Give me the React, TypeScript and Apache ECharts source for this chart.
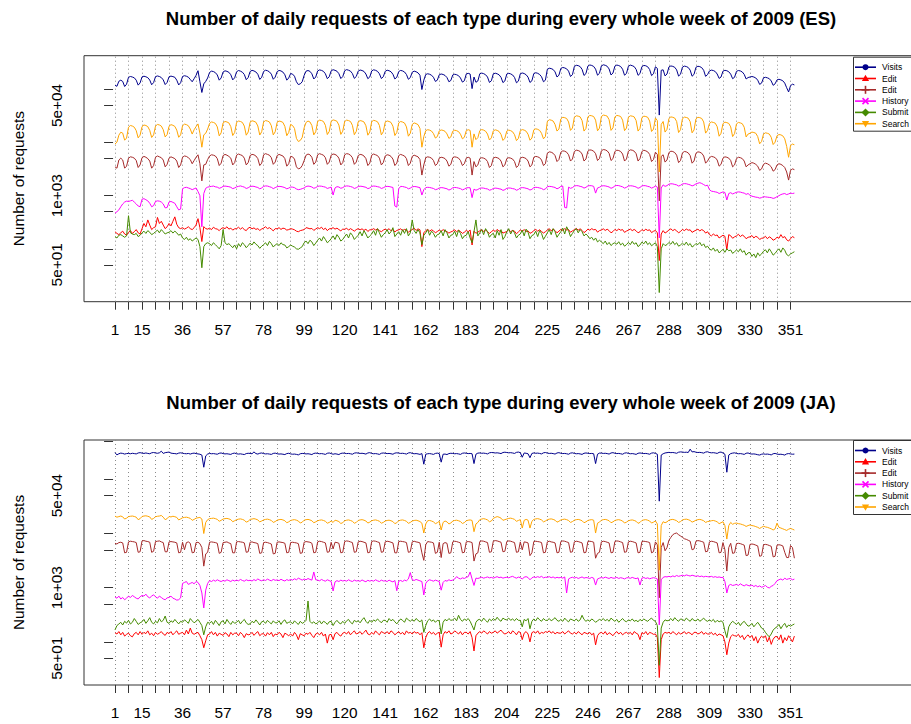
import React, { useEffect, useRef } from "react";
import * as echarts from "echarts";

const FONT = "'Liberation Sans', Arial, sans-serif";

const xTicks = [1, 8, 15, 22, 29, 36, 43, 50, 57, 64, 71, 78, 85, 92, 99, 106, 113, 120, 127, 134, 141, 148, 155, 162, 169, 176, 183, 190, 197, 204, 211, 218, 225, 232, 239, 246, 253, 260, 267, 274, 281, 288, 295, 302, 309, 316, 323, 330, 337, 344, 351];
const xLabels = [1, 15, 36, 57, 78, 99, 120, 141, 162, 183, 204, 225, 246, 267, 288, 309, 330, 351];
const yTicksES = [50, 100, 500, 1000, 5000, 10000, 50000, 100000];
const yTicksJA = [50, 100, 500, 1000, 5000, 10000, 50000, 100000, 500000];
const yLabels = [50, 1000, 50000];

const seriesNames = ["Visits", "Edit", "Edit", "History", "Submit", "Search"];
const seriesColors = ["#00008B", "#FF0000", "#A52A2A", "#FF00FF", "#458B00", "#FFA500"];

// ---------------- ES ----------------
const esVisits = [
120e3,115e3,143e3,150e3,142e3,114e3,126e3,
170e3,176e3,172e3,166e3,150e3,121e3,133e3,
173e3,178e3,174e3,167e3,151e3,123e3,135e3,
175e3,180e3,176e3,168e3,152e3,124e3,136e3,
174e3,179e3,175e3,170e3,150e3,122e3,134e3,
176e3,182e3,178e3,171e3,155e3,140e3,160e3,
185e3,226e3,140e3,88e3,128e3,142e3,165e3,
210e3,222e3,218e3,208e3,188e3,150e3,165e3,
214e3,225e3,220e3,211e3,190e3,152e3,166e3,
216e3,228e3,222e3,212e3,192e3,153e3,168e3,
218e3,230e3,224e3,214e3,194e3,155e3,170e3,
219e3,231e3,226e3,215e3,195e3,156e3,171e3,
217e3,229e3,224e3,213e3,190e3,150e3,165e3,
200e3,195e3,178e3,140e3,124e3,128e3,140e3,
185e3,222e3,228e3,220e3,198e3,158e3,172e3,
224e3,234e3,229e3,220e3,198e3,160e3,174e3,
225e3,236e3,230e3,221e3,199e3,161e3,175e3,
226e3,237e3,231e3,222e3,200e3,162e3,176e3,
222e3,233e3,228e3,219e3,196e3,160e3,172e3,
224e3,235e3,230e3,220e3,198e3,161e3,174e3,
220e3,231e3,226e3,216e3,194e3,158e3,170e3,
218e3,229e3,224e3,214e3,192e3,156e3,168e3,
212e3,222e3,216e3,206e3,186e3,100e3,150e3,
192e3,198e3,194e3,186e3,170e3,142e3,150e3,
190e3,196e3,192e3,184e3,168e3,140e3,148e3,
188e3,194e3,190e3,182e3,165e3,138e3,146e3,
196e3,202e3,196e3,104e3,172e3,137e3,145e3,
198e3,204e3,199e3,190e3,172e3,136e3,146e3,
197e3,203e3,198e3,189e3,170e3,135e3,145e3,
196e3,202e3,197e3,188e3,169e3,134e3,144e3,
198e3,205e3,200e3,190e3,171e3,136e3,146e3,
200e3,207e3,202e3,192e3,174e3,140e3,150e3,
240e3,252e3,248e3,238e3,215e3,172e3,186e3,
250e3,260e3,255e3,245e3,222e3,176e3,190e3,
272e3,286e3,282e3,270e3,240e3,184e3,200e3,
276e3,290e3,284e3,272e3,242e3,186e3,202e3,
278e3,292e3,286e3,274e3,244e3,188e3,204e3,
276e3,289e3,283e3,271e3,241e3,186e3,201e3,
274e3,288e3,281e3,270e3,240e3,185e3,200e3,
270e3,284e3,280e3,268e3,238e3,183e3,198e3,
268e3,250e3,33e3,230e3,235e3,180e3,196e3,
266e3,278e3,273e3,262e3,234e3,179e3,194e3,
264e3,276e3,271e3,260e3,232e3,178e3,193e3,
262e3,274e3,270e3,258e3,230e3,177e3,191e3,
224e3,232e3,228e3,218e3,196e3,162e3,172e3,
222e3,230e3,226e3,216e3,195e3,160e3,170e3,
220e3,228e3,224e3,214e3,193e3,158e3,168e3,
172e3,176e3,172e3,165e3,150e3,125e3,132e3,
166e3,170e3,166e3,160e3,145e3,120e3,128e3,
152e3,156e3,152e3,146e3,132e3,108e3,90e3,
118e3,126e3,122e3];

const esEdit = [
210,195,185,200,215,190,180,
205,220,195,210,230,200,190,
240,300,260,350,280,230,250,
260,390,300,330,280,240,260,
300,270,330,400,290,250,240,
250,235,245,260,240,230,250,
280,370,250,137,262,240,235,
245,230,255,240,235,220,240,
250,240,260,235,245,225,238,
240,255,235,250,230,220,245,
255,238,248,232,240,222,236,
245,260,240,250,235,218,240,
238,250,232,245,240,225,230,
240,235,228,215,210,220,225,
230,250,245,238,242,222,236,
250,240,255,230,245,220,238,
240,250,235,245,230,218,235,
232,245,225,240,228,215,230,
240,228,238,222,235,212,228,
228,240,226,236,220,210,225,
235,222,240,218,230,208,222,
228,238,220,232,225,205,220,
230,245,222,238,228,110,200,
220,232,215,228,218,200,212,
225,212,230,218,210,198,208,
215,228,210,224,212,195,205,
222,210,226,118,215,196,206,
218,230,212,226,210,195,210,
224,212,232,215,220,198,205,
212,228,210,222,215,192,208,
226,214,230,212,218,196,204,
220,232,215,228,212,198,210,
225,240,218,235,220,200,215,
232,222,240,226,230,205,218,
228,242,225,238,222,202,215,
235,224,240,228,232,206,220,
226,238,222,234,220,200,212,
232,220,236,224,230,204,216,
224,236,220,232,218,200,210,
230,218,234,222,228,202,214,
222,200,60,190,220,198,210,
226,238,220,232,218,200,212,
232,220,236,224,228,204,215,
224,234,218,230,220,198,210,
185,175,190,178,182,160,170,
180,172,95,185,176,158,168,
175,188,170,182,172,155,165,
168,178,160,172,165,150,158,
160,172,155,168,160,145,152,
165,158,185,162,170,148,140,
155,170,162];

const esEdit2 = [
3.5e3,3.3e3,4.7e3,5.1e3,4.7e3,3.3e3,3.6e3,
5.1e3,5.4e3,5.3e3,5.1e3,4.6e3,3.4e3,3.8e3,
5.2e3,5.5e3,5.3e3,5e3,4.5e3,3.3e3,3.7e3,
5.3e3,5.6e3,5.4e3,5.2e3,4.7e3,3.5e3,3.9e3,
5.1e3,5.4e3,5.2e3,5e3,4.5e3,3.4e3,3.8e3,
5.3e3,5.6e3,5.5e3,5.2e3,4.8e3,4e3,4.6e3,
5.3e3,5.9e3,4e3,1.9e3,3.8e3,3.9e3,4.8e3,
5.6e3,5.9e3,5.8e3,5.6e3,5e3,3.7e3,4.1e3,
5.7e3,6e3,5.8e3,5.5e3,5.1e3,3.8e3,4.2e3,
5.8e3,6.1e3,5.9e3,5.7e3,5.1e3,3.8e3,4.2e3,
5.7e3,6e3,5.9e3,5.6e3,5e3,3.7e3,4.1e3,
5.9e3,6.2e3,6e3,5.8e3,5.2e3,3.9e3,4.3e3,
5.7e3,6e3,5.8e3,5.6e3,5e3,3.6e3,4e3,
5.5e3,5.4e3,4.9e3,3.5e3,3.2e3,3.3e3,3.7e3,
4.6e3,5.8e3,6.1e3,5.9e3,5.3e3,3.9e3,4.3e3,
5.9e3,6.2e3,6e3,5.8e3,5.2e3,3.9e3,4.3e3,
5.8e3,6.1e3,6e3,5.7e3,5.1e3,3.8e3,4.2e3,
5.9e3,6.2e3,6.1e3,5.8e3,5.2e3,3.9e3,4.3e3,
5.7e3,6e3,5.9e3,5.6e3,5e3,3.7e3,4.1e3,
5.8e3,6.1e3,5.9e3,5.7e3,5.1e3,3.8e3,4.2e3,
5.6e3,5.9e3,5.8e3,5.5e3,4.9e3,3.7e3,4.1e3,
5.7e3,6e3,5.8e3,5.6e3,5e3,3.7e3,4.1e3,
5.5e3,5.8e3,5.6e3,5.4e3,4.8e3,2.45e3,3.8e3,
5.2e3,5.4e3,5.3e3,5.1e3,4.6e3,3.7e3,4e3,
5.1e3,5.3e3,5.2e3,5e3,4.5e3,3.6e3,3.9e3,
5.2e3,5.4e3,5.3e3,5.1e3,4.6e3,3.7e3,4e3,
5.1e3,5.3e3,5.1e3,2.45e3,4.4e3,3.5e3,3.8e3,
5e3,5.2e3,5.1e3,4.9e3,4.4e3,3.4e3,3.7e3,
5.1e3,5.3e3,5.2e3,5e3,4.5e3,3.5e3,3.8e3,
5e3,5.2e3,5.1e3,4.9e3,4.4e3,3.4e3,3.7e3,
5.1e3,5.3e3,5.2e3,5e3,4.5e3,3.5e3,3.8e3,
5.3e3,5.5e3,5.4e3,5.2e3,4.7e3,3.7e3,4e3,
6.3e3,6.7e3,6.6e3,6.3e3,5.7e3,4.4e3,4.8e3,
6.6e3,7e3,6.9e3,6.6e3,5.9e3,4.5e3,4.9e3,
6.8e3,7.2e3,7.1e3,6.8e3,6.1e3,4.5e3,4.9e3,
6.9e3,7.3e3,7.2e3,6.9e3,6.2e3,4.6e3,5e3,
7e3,7.4e3,7.3e3,7e3,6.3e3,4.6e3,5e3,
6.8e3,7.2e3,7.1e3,6.8e3,6.1e3,4.5e3,4.9e3,
6.9e3,7.3e3,7.2e3,6.9e3,6.2e3,4.5e3,5e3,
6.8e3,7.2e3,7e3,6.7e3,6e3,4.4e3,4.8e3,
6.6e3,6e3,800,5.5e3,5.9e3,4.3e3,4.7e3,
6.5e3,6.9e3,6.8e3,6.5e3,5.8e3,4.2e3,4.6e3,
6.4e3,6.8e3,6.7e3,6.4e3,5.7e3,4.1e3,4.5e3,
6.3e3,6.7e3,6.6e3,6.3e3,5.6e3,4.1e3,4.5e3,
5.2e3,5.5e3,5.4e3,5.2e3,4.7e3,3.6e3,3.9e3,
5.1e3,5.4e3,5.3e3,5.1e3,4.6e3,3.5e3,3.8e3,
5e3,5.3e3,5.2e3,5e3,4.5e3,3.5e3,3.8e3,
4e3,4.2e3,4.1e3,3.9e3,3.6e3,3e3,3.2e3,
3.9e3,4.1e3,4e3,3.8e3,3.5e3,2.9e3,3.1e3,
3.8e3,4e3,3.9e3,3.7e3,3.4e3,2.8e3,1.97e3,
3e3,3.2e3,3.1e3];

const esHistory = [
470,500,540,620,700,760,790,
780,800,820,760,700,640,620,
860,880,840,800,720,620,650,
780,800,790,760,700,590,600,
760,780,750,720,620,540,560,
1.35e3,1.42e3,1.44e3,1.4e3,1.36e3,1.3e3,1.35e3,
1.4e3,1.2e3,1e3,260,1.1e3,1.38e3,1.45e3,
1.48e3,1.5e3,1.52e3,1.47e3,1.45e3,1.38e3,1.42e3,
1.5e3,1.52e3,1.5e3,1.48e3,1.44e3,1.36e3,1.4e3,
1.47e3,1.5e3,1.53e3,1.49e3,1.45e3,1.37e3,1.41e3,
1.49e3,1.51e3,1.5e3,1.46e3,1.43e3,1.35e3,1.4e3,
1.5e3,1.53e3,1.52e3,1.48e3,1.44e3,1.36e3,1.42e3,
1.48e3,1.5e3,1.49e3,1.46e3,1.42e3,1.35e3,1.39e3,
1.46e3,1.45e3,1.42e3,1.34e3,1.3e3,1.32e3,1.36e3,
1.4e3,1.49e3,1.52e3,1.5e3,1.46e3,1.38e3,1.42e3,
1.5e3,1.52e3,1.51e3,1.48e3,1.45e3,1.37e3,1.41e3,
1.45e3,1.03e3,1.4e3,1.48e3,1.46e3,1.38e3,1.42e3,
1.5e3,1.53e3,1.52e3,1.49e3,1.45e3,1.37e3,1.41e3,
1.49e3,1.51e3,1.5e3,1.47e3,1.44e3,1.36e3,1.4e3,
1.5e3,1.52e3,1.51e3,1.48e3,1.45e3,1.37e3,1.41e3,
1.48e3,1.5e3,1.49e3,1.46e3,1.43e3,640,610,
1.35e3,1.5e3,1.49e3,1.46e3,1.43e3,1.35e3,1.39e3,
1.47e3,1.49e3,1.48e3,1.45e3,1.42e3,1.03e3,1.3e3,
1.42e3,1.44e3,1.43e3,1.4e3,1.37e3,1.3e3,1.33e3,
1.4e3,1.42e3,1.41e3,1.38e3,1.35e3,1.28e3,1.32e3,
1.41e3,1.43e3,1.42e3,1.39e3,1.36e3,1.29e3,1.33e3,
1.4e3,1.42e3,1.41e3,920,1.33e3,1.27e3,1.31e3,
1.38e3,1.4e3,1.39e3,1.36e3,1.34e3,1.27e3,1.3e3,
1.37e3,1.39e3,1.38e3,1.35e3,1.33e3,1.26e3,1.3e3,
1.38e3,1.4e3,1.39e3,1.36e3,1.34e3,1.27e3,1.31e3,
1.4e3,1.42e3,1.41e3,1.38e3,1.35e3,1.28e3,1.32e3,
1.42e3,1.44e3,1.43e3,1.4e3,1.37e3,1.3e3,1.34e3,
1.48e3,1.5e3,1.49e3,1.46e3,1.43e3,1.35e3,1.4e3,
1.5e3,1.52e3,600,590,1.45e3,1.38e3,1.42e3,
1.52e3,1.55e3,1.54e3,1.5e3,1.47e3,1.39e3,1.44e3,
1.53e3,1.55e3,1.54e3,1.5e3,1.12e3,1.4e3,1.44e3,
1.52e3,1.54e3,1.53e3,1.5e3,1.46e3,1.38e3,1.43e3,
1.53e3,1.56e3,1.55e3,1.51e3,1.47e3,1.39e3,1.44e3,
1.52e3,1.54e3,1.53e3,1.5e3,1.46e3,1.38e3,1.43e3,
1.53e3,1.55e3,1.54e3,1.5e3,1.47e3,1.39e3,1.44e3,
1.52e3,1.45e3,160,1.4e3,1.6e3,1.5e3,1.55e3,
1.65e3,1.68e3,1.67e3,1.63e3,1.6e3,1.52e3,1.57e3,
1.66e3,1.69e3,1.68e3,1.64e3,1.6e3,1.53e3,1.58e3,
1.67e3,1.72e3,1.76e3,1.7e3,1.62e3,1.54e3,1.58e3,
1.3e3,1.22e3,1.2e3,1.18e3,1.16e3,1.1e3,1.14e3,
1.18e3,1.15e3,830,1.1e3,1.14e3,1.08e3,1.12e3,
1.16e3,1.18e3,1.17e3,1.14e3,1.12e3,1.06e3,1.1e3,
1.02e3,980,960,940,930,900,920,
960,950,940,930,920,890,910,
960,1e3,1.05e3,1.08e3,1.1e3,1.05e3,1.08e3,
1.12e3,1.1e3,1.12e3];

const esSubmit = [
170,160,180,185,175,165,175,
420,200,190,185,195,170,180,
200,215,195,220,205,185,195,
210,225,200,230,210,190,200,
205,220,198,215,200,180,190,
160,150,165,145,155,140,150,
160,150,110,44,110,125,130,
125,115,130,120,110,100,115,
230,130,120,125,115,105,118,
100,125,110,130,120,105,115,
128,118,135,122,115,102,112,
120,130,115,138,125,108,118,
125,115,130,120,118,104,110,
118,112,108,100,98,104,110,
130,140,125,145,135,115,128,
145,160,140,170,150,130,140,
155,175,150,185,165,140,150,
170,190,160,200,180,150,165,
180,210,175,220,190,160,175,
190,220,180,240,200,165,185,
200,230,190,210,250,170,190,
210,180,230,195,240,175,200,
350,220,195,230,200,120,180,
200,230,180,215,195,165,185,
190,220,175,230,200,160,180,
185,215,170,225,195,155,175,
180,210,160,130,210,350,175,
200,230,185,240,210,165,185,
195,160,220,180,230,150,170,
210,240,190,225,200,160,180,
190,225,175,235,205,155,178,
185,215,170,220,195,150,172,
200,230,185,240,210,165,188,
210,245,190,260,220,170,195,
220,240,200,230,210,175,190,
175,155,165,145,160,135,145,
135,125,140,120,132,115,125,
130,122,136,118,128,112,120,
132,120,138,122,130,110,118,
134,124,140,120,130,114,122,
130,110,15,100,125,115,120,
132,122,138,120,130,112,118,
128,118,134,116,126,108,115,
126,120,132,114,124,106,112,
100,94,104,90,98,84,90,
98,86,100,92,95,82,88,
95,88,100,86,92,76,84,
85,72,80,68,84,74,80,
90,96,84,100,88,76,82,
92,100,86,104,94,78,74,
80,84,88];

const esSearch = [
9.4e3,10.2e3,13.8e3,15.7e3,15.1e3,11.1e3,12.2e3,
19.5e3,21e3,20.5e3,19.5e3,16.8e3,12.3e3,13.8e3,
20e3,21.5e3,21e3,20e3,17e3,12.5e3,14e3,
20.5e3,22e3,21.5e3,20.5e3,17.5e3,12.8e3,14.2e3,
20.3e3,21.8e3,21.2e3,20.2e3,17.2e3,12.6e3,14e3,
20.8e3,22.3e3,21.8e3,20.8e3,18e3,14.5e3,17.5e3,
20e3,22.5e3,15e3,8.2e3,14e3,15e3,18e3,
23e3,24.5e3,24e3,23e3,19.8e3,13.4e3,15.3e3,
23.5e3,25e3,24.5e3,23.5e3,20e3,13.6e3,15.5e3,
24e3,25.5e3,25e3,24e3,20.5e3,13.8e3,15.8e3,
24.2e3,25.8e3,25.2e3,24.2e3,20.6e3,13.9e3,16e3,
24.5e3,26e3,25.5e3,24.5e3,20.8e3,14e3,16e3,
24e3,25.5e3,25e3,24e3,20.2e3,13.5e3,15.5e3,
22e3,21e3,18.5e3,12e3,10.5e3,11e3,12.5e3,
19e3,24e3,25.5e3,24.5e3,21e3,14e3,16e3,
25e3,26.5e3,26e3,25e3,21.2e3,14.2e3,16.2e3,
25.2e3,26.8e3,26.2e3,25.2e3,21.4e3,14.3e3,16.4e3,
25e3,26.5e3,26e3,25e3,21.2e3,14.1e3,16.2e3,
24.6e3,26e3,25.5e3,24.5e3,20.8e3,13.8e3,15.8e3,
24.8e3,26.3e3,25.7e3,24.7e3,21e3,14e3,16e3,
24.2e3,25.6e3,25e3,24e3,20.4e3,13.6e3,15.5e3,
23.5e3,25e3,24.4e3,23.4e3,19.8e3,13.2e3,15e3,
22e3,23.5e3,22.8e3,21.8e3,18.5e3,8.2e3,13e3,
16.8e3,17.5e3,17.2e3,16.5e3,14.8e3,12.2e3,13e3,
16.6e3,17.3e3,17e3,16.3e3,14.6e3,12e3,12.8e3,
16.4e3,17.1e3,16.8e3,16.1e3,14.4e3,11.8e3,12.6e3,
16.8e3,17.5e3,17e3,8.2e3,14.6e3,11.4e3,12.4e3,
16.8e3,17.6e3,17.2e3,16.4e3,14.5e3,11.2e3,12.3e3,
16.6e3,17.4e3,17e3,16.2e3,14.3e3,11e3,12.1e3,
16.5e3,17.2e3,16.8e3,16e3,14.1e3,10.9e3,12e3,
16.8e3,17.6e3,17.2e3,16.4e3,14.4e3,11.1e3,12.2e3,
17.4e3,18.2e3,17.8e3,17e3,15e3,11.8e3,13e3,
25e3,27e3,26.5e3,25.5e3,22e3,16.5e3,18e3,
28e3,30e3,29.5e3,28.5e3,24.5e3,17e3,18.8e3,
30e3,32e3,31.5e3,30.5e3,26e3,16.5e3,18.5e3,
30.5e3,32.5e3,32e3,31e3,26.5e3,16.7e3,18.7e3,
31e3,33e3,32.5e3,31.5e3,27e3,17e3,19e3,
30.5e3,32.5e3,32e3,31e3,26.5e3,16.8e3,18.8e3,
30e3,32e3,31.5e3,30.5e3,26e3,16.5e3,18.5e3,
29.5e3,31.5e3,31e3,30e3,25.5e3,16.2e3,18e3,
29e3,26e3,2.8e3,22e3,25e3,15.8e3,17.8e3,
28.5e3,30.5e3,30e3,29e3,25e3,15.5e3,17.5e3,
28.2e3,30.2e3,29.8e3,28.8e3,24.8e3,15.3e3,17.3e3,
28e3,30e3,29.5e3,28.5e3,24.5e3,15.1e3,17e3,
23e3,24.5e3,24e3,23.2e3,20e3,13.2e3,15e3,
22.8e3,24.3e3,23.8e3,23e3,19.8e3,13e3,14.8e3,
22.5e3,24e3,23.5e3,22.7e3,19.5e3,12.8e3,14.5e3,
15e3,15.8e3,15.5e3,15e3,13e3,9.5e3,10.5e3,
14.5e3,15.3e3,15e3,14.5e3,12.6e3,9.2e3,10.2e3,
13.5e3,14.2e3,14e3,13.4e3,11.8e3,8.5e3,5.3e3,
8.8e3,9.4e3,9.1e3];

// ---------------- JA ----------------
const jaVisits = [
310e3,282e3,296e3,304e3,300e3,292e3,298e3,
300e3,296e3,302e3,298e3,294e3,306e3,310e3,
304e3,300e3,306e3,300e3,296e3,308e3,312e3,
306e3,302e3,308e3,330e3,300e3,310e3,314e3,
318e3,304e3,300e3,298e3,294e3,304e3,308e3,
302e3,298e3,296e3,300e3,292e3,300e3,304e3,
298e3,294e3,290e3,280e3,167e3,270e3,292e3,
300e3,296e3,298e3,294e3,290e3,302e3,306e3,
298e3,294e3,296e3,292e3,288e3,300e3,304e3,
296e3,292e3,295e3,290e3,286e3,298e3,302e3,
300e3,296e3,320e3,298e3,292e3,302e3,306e3,
298e3,294e3,296e3,292e3,288e3,300e3,304e3,
296e3,292e3,294e3,290e3,286e3,298e3,302e3,
294e3,290e3,292e3,288e3,282e3,296e3,300e3,
298e3,294e3,296e3,292e3,286e3,300e3,304e3,
300e3,296e3,298e3,294e3,288e3,302e3,306e3,
298e3,290e3,296e3,292e3,286e3,300e3,304e3,
302e3,298e3,300e3,296e3,290e3,304e3,308e3,
304e3,300e3,302e3,298e3,292e3,306e3,310e3,
300e3,296e3,298e3,294e3,288e3,302e3,306e3,
302e3,298e3,300e3,296e3,290e3,304e3,308e3,
304e3,300e3,302e3,298e3,292e3,306e3,310e3,
300e3,296e3,298e3,294e3,288e3,298e3,190e3,
290e3,296e3,298e3,294e3,288e3,300e3,304e3,
298e3,207e3,290e3,292e3,286e3,298e3,302e3,
300e3,296e3,298e3,294e3,288e3,302e3,306e3,
302e3,298e3,300e3,296e3,195e3,290e3,304e3,
306e3,302e3,304e3,300e3,294e3,308e3,312e3,
310e3,306e3,308e3,304e3,298e3,312e3,316e3,
312e3,308e3,310e3,306e3,300e3,314e3,318e3,
310e3,255e3,306e3,302e3,296e3,250e3,300e3,
306e3,302e3,304e3,300e3,294e3,308e3,312e3,
304e3,300e3,302e3,298e3,292e3,306e3,310e3,
302e3,298e3,300e3,296e3,290e3,304e3,308e3,
300e3,296e3,298e3,294e3,288e3,302e3,306e3,
302e3,298e3,300e3,296e3,195e3,290e3,304e3,
304e3,300e3,302e3,298e3,292e3,306e3,310e3,
302e3,298e3,300e3,296e3,290e3,304e3,308e3,
300e3,296e3,298e3,294e3,288e3,302e3,306e3,
302e3,298e3,300e3,296e3,290e3,304e3,308e3,
300e3,290e3,39.5e3,280e3,296e3,306e3,310e3,
314e3,310e3,312e3,308e3,302e3,316e3,320e3,
318e3,314e3,316e3,312e3,360e3,320e3,324e3,
316e3,312e3,314e3,310e3,304e3,318e3,322e3,
312e3,308e3,310e3,306e3,300e3,314e3,318e3,
306e3,290e3,135e3,280e3,298e3,304e3,308e3,
300e3,296e3,298e3,294e3,288e3,302e3,306e3,
296e3,292e3,294e3,290e3,284e3,280e3,290e3,
294e3,290e3,292e3,288e3,282e3,296e3,300e3,
292e3,288e3,290e3,286e3,280e3,294e3,298e3,
294e3,290e3,292e3];

const jaEdit = [
147,140,155,135,150,128,138,
145,130,124,142,150,135,155,
138,150,142,160,135,145,130,
150,138,145,155,140,132,150,
142,155,135,148,160,138,145,
150,135,165,140,180,145,138,
145,150,130,110,78,105,135,
140,155,135,150,128,145,138,
132,148,140,125,150,135,145,
145,130,150,138,120,142,135,
138,150,132,145,155,130,140,
142,128,148,135,150,125,140,
135,150,140,120,145,138,130,
140,128,150,135,110,142,135,
130,145,138,150,132,120,140,
145,135,150,128,140,95,135,
138,110,142,150,135,128,145,
150,140,155,135,148,160,140,
145,155,138,150,165,140,135,
150,138,160,145,135,155,148,
142,155,140,160,150,135,145,
155,140,150,135,160,145,150,
140,155,145,150,135,148,78,
120,145,155,140,150,135,145,
150,80,135,155,145,160,140,
145,160,150,140,155,135,150,
150,140,155,120,68,130,145,
155,145,160,150,140,155,145,
150,160,145,155,165,148,140,
145,155,140,160,150,135,155,
150,110,145,155,140,100,148,
155,145,160,140,150,145,155,
150,160,145,155,140,150,145,
145,155,140,150,160,145,140,
150,140,155,145,135,150,145,
140,150,135,145,88,130,145,
150,140,155,135,148,140,130,
145,155,140,150,135,145,150,
140,150,135,155,145,138,110,
148,140,155,135,150,145,138,
140,120,22,110,140,150,145,
150,140,155,145,135,150,140,
145,155,140,150,145,135,150,
150,140,145,155,138,148,140,
140,150,135,145,130,140,135,
130,100,58,95,125,135,130,
128,138,120,132,110,125,135,
120,132,105,125,95,115,128,
118,130,100,122,90,112,125,
125,110,135,95,120,105,130,
115,100,128];

const jaEdit2 = [
6.6e3,6.4e3,6.8e3,6.9e3,6.7e3,4.4e3,4.5e3,
7e3,7.2e3,7.1e3,7e3,6.8e3,4.5e3,4.6e3,
7.3e3,7.4e3,7.2e3,7.1e3,6.9e3,4.5e3,4.7e3,
7.1e3,7.2e3,7.3e3,7e3,6.8e3,4.6e3,4.6e3,
7e3,7.1e3,7e3,6.9e3,6.7e3,4.4e3,4.5e3,
6.9e3,5e3,6.8e3,7e3,6.6e3,4.4e3,4.5e3,
6.8e3,6.9e3,6.5e3,5.5e3,2.5e3,4.2e3,4.5e3,
6.9e3,7e3,6.9e3,6.8e3,6.6e3,4.3e3,4.5e3,
6.8e3,6.9e3,7e3,6.7e3,6.5e3,4.4e3,4.4e3,
7e3,7.1e3,7e3,6.9e3,6.7e3,4.5e3,4.6e3,
6.9e3,7e3,6.8e3,6.7e3,6.5e3,4.3e3,4.4e3,
6.8e3,6.9e3,6.8e3,6.6e3,6.4e3,4.2e3,4.3e3,
6.9e3,7e3,6.9e3,6.8e3,6.6e3,4.4e3,4.5e3,
6.8e3,6.9e3,6.8e3,6.7e3,6.5e3,4.3e3,4.4e3,
6.9e3,7.1e3,7e3,6.9e3,6.6e3,4.4e3,4.5e3,
7e3,7.2e3,7.1e3,6.9e3,6.7e3,4.5e3,4.6e3,
6.9e3,5.2e3,6.9e3,6.8e3,6.6e3,4.4e3,4.5e3,
7.1e3,7.3e3,7.2e3,7e3,6.8e3,4.5e3,4.6e3,
7e3,7.2e3,7.1e3,6.9e3,6.7e3,4.4e3,4.5e3,
7.1e3,7.3e3,7.2e3,7e3,6.8e3,4.5e3,4.6e3,
7e3,7.2e3,7.1e3,6.9e3,6.7e3,4.4e3,4.4e3,
7.1e3,7.2e3,7.1e3,7e3,6.8e3,4.5e3,4.6e3,
7e3,7.2e3,7e3,6.9e3,6.7e3,4.4e3,3.2e3,
6.2e3,7.1e3,7e3,6.9e3,6.7e3,4.3e3,4.5e3,
6.9e3,3.6e3,6.5e3,6.8e3,6.6e3,4.3e3,4.4e3,
7e3,7.2e3,7.1e3,6.9e3,6.7e3,4.4e3,4.5e3,
7e3,7.1e3,7e3,6.8e3,3.1e3,4.2e3,4.4e3,
7.1e3,7.3e3,7.2e3,7e3,6.8e3,4.5e3,4.6e3,
7.2e3,7.4e3,7.3e3,7.1e3,6.9e3,4.6e3,4.7e3,
7.1e3,7.3e3,7.2e3,7e3,6.8e3,4.5e3,4.6e3,
7e3,5e3,7e3,6.9e3,6.7e3,3.9e3,4.4e3,
7.1e3,7.2e3,7.1e3,7e3,6.8e3,4.4e3,4.5e3,
7e3,7.2e3,7e3,6.9e3,6.7e3,4.4e3,4.5e3,
7.1e3,7.3e3,7.2e3,7e3,6.8e3,4.5e3,4.6e3,
7e3,7.2e3,7.1e3,6.9e3,6.7e3,4.4e3,4.5e3,
7.1e3,7.2e3,7.1e3,6.9e3,3.5e3,4.3e3,4.5e3,
7e3,7.2e3,7.1e3,6.9e3,6.7e3,4.4e3,4.5e3,
7.1e3,7.3e3,7.2e3,7e3,6.8e3,4.5e3,4.6e3,
7e3,7.2e3,7.1e3,6.9e3,6.7e3,4.4e3,4.5e3,
7.1e3,7.2e3,7.1e3,7e3,6.8e3,4.4e3,4.6e3,
7e3,6.2e3,650,5.5e3,6.8e3,4.8e3,5.5e3,
7.5e3,8.5e3,9.5e3,10e3,10.2e3,9.5e3,9e3,
8.5e3,8e3,7.8e3,7.5e3,7.2e3,5e3,5.2e3,
7.2e3,7.4e3,7.3e3,7.1e3,6.9e3,4.6e3,4.7e3,
7e3,7.2e3,7.1e3,6.9e3,6.7e3,4.4e3,4.5e3,
6.8e3,5e3,2.03e3,5.5e3,6.6e3,4.3e3,4.4e3,
6.5e3,6.6e3,6.5e3,6.3e3,6.1e3,3.9e3,4e3,
6.3e3,6.4e3,6.3e3,6.1e3,5.9e3,3.8e3,3.9e3,
6.2e3,6.3e3,6.2e3,6e3,5.8e3,3.7e3,3.8e3,
6.1e3,6.2e3,6.1e3,5.9e3,4.5e3,3.6e3,3.6e3,
6e3,5.5e3,3.5e3];

const jaHistory = [
674,640,700,620,660,600,640,
700,660,720,680,640,620,680,
720,700,760,680,650,700,740,
680,640,700,660,620,600,650,
660,700,640,620,590,600,650,
1.2e3,1.25e3,1.3e3,1.15e3,1.2e3,1.25e3,1.18e3,
1.3e3,1.25e3,1.1e3,800,423,900,1.2e3,
1.35e3,1.3e3,1.38e3,1.32e3,1.4e3,1.34e3,1.3e3,
1.36e3,1.32e3,1.4e3,1.35e3,1.3e3,1.38e3,1.33e3,
1.38e3,1.34e3,1.42e3,1.36e3,1.32e3,1.4e3,1.35e3,
1.37e3,1.33e3,1.41e3,1.35e3,1.45e3,1.38e3,1.34e3,
1.4e3,1.36e3,1.44e3,1.38e3,1.34e3,1.42e3,1.37e3,
1.39e3,1.35e3,1.43e3,1.37e3,1.33e3,1.41e3,1.36e3,
1.42e3,1.38e3,1.46e3,1.4e3,1.5e3,1.44e3,1.38e3,
1.45e3,1.4e3,1.48e3,1.42e3,1.38e3,1.95e3,1.4e3,
1.38e3,1.34e3,1.42e3,1.36e3,1.32e3,1.4e3,1.35e3,
1.3e3,870,1.28e3,1.35e3,1.3e3,1.38e3,1.33e3,
1.36e3,1.32e3,1.4e3,1.34e3,1.3e3,1.38e3,1.33e3,
1.35e3,1.31e3,1.39e3,1.33e3,1.29e3,1.37e3,1.32e3,
1.36e3,1.32e3,1.4e3,1.34e3,1.3e3,1.38e3,1.33e3,
1.34e3,1.3e3,1.38e3,1.32e3,1.28e3,1.36e3,880,
1.32e3,1.36e3,1.3e3,1.38e3,1.34e3,1.45e3,1.9e3,
1.4e3,1.36e3,1.42e3,1.38e3,1.34e3,1.3e3,734,
1.2e3,1.34e3,1.4e3,1.36e3,1.32e3,1.38e3,1.34e3,
1.3e3,900,1.25e3,1.36e3,1.32e3,1.4e3,1.35e3,
1.38e3,1.45e3,1.6e3,1.5e3,1.45e3,1.52e3,1.48e3,
1.55e3,1.6e3,1.95e3,1.45e3,1.1e3,1.5e3,1.48e3,
1.52e3,1.56e3,1.5e3,1.54e3,1.58e3,1.52e3,1.55e3,
1.5e3,1.55e3,1.6e3,1.53e3,1.57e3,1.5e3,1.54e3,
1.56e3,1.52e3,1.58e3,1.62e3,1.55e3,1.5e3,1.57e3,
1.53e3,1.45e3,1.56e3,1.6e3,1.54e3,1.4e3,1.52e3,
1.58e3,1.54e3,1.6e3,1.55e3,1.62e3,1.52e3,1.56e3,
1.55e3,1.6e3,1.53e3,1.58e3,1.5e3,1.56e3,1.52e3,
1.55e3,1.5e3,1.58e3,800,1.45e3,1.52e3,1.56e3,
1.5e3,1.55e3,1.48e3,1.53e3,1.58e3,1.5e3,1.54e3,
1.52e3,1.48e3,1.55e3,1.5e3,1.12e3,1.45e3,1.5e3,
1.54e3,1.5e3,1.57e3,1.52e3,1.48e3,1.55e3,1.5e3,
1.5e3,1.55e3,1.48e3,1.53e3,1.5e3,1.45e3,1.52e3,
1.53e3,1.49e3,1.55e3,1.5e3,1.47e3,1.52e3,1.12e3,
1.5e3,1.54e3,1.48e3,1.52e3,1.46e3,1.5e3,1.53e3,
1.5e3,1.45e3,206,1.4e3,1.55e3,1.6e3,1.58e3,
1.62e3,1.58e3,1.65e3,1.6e3,1.68e3,1.62e3,1.66e3,
1.7e3,1.65e3,1.72e3,1.68e3,1.64e3,1.7e3,1.66e3,
1.62e3,1.66e3,1.6e3,1.64e3,1.58e3,1.62e3,1.6e3,
1.58e3,1.62e3,1.56e3,1.6e3,1.55e3,1.58e3,1.54e3,
1.55e3,1.3e3,800,1.1e3,1.15e3,1.1e3,1.12e3,
1.15e3,1.1e3,1.18e3,1.12e3,1.08e3,1.14e3,1.1e3,
1.08e3,1.12e3,1.05e3,1.1e3,1.04e3,1.08e3,1.02e3,
1.05e3,1.1e3,1.02e3,990,1.06e3,1.1e3,1.2e3,
1.35e3,1.4e3,1.45e3,1.38e3,1.5e3,1.42e3,1.46e3,
1.48e3,1.4e3,1.44e3];

const jaSubmit = [
166,200,214,230,205,240,222,
250,214,230,270,240,210,225,
235,260,220,245,280,230,215,
240,225,270,235,250,300,230,
220,245,230,260,235,215,240,
230,255,240,220,270,245,225,
240,260,230,200,135,190,230,
220,240,210,250,225,200,235,
245,215,260,230,210,240,220,
230,250,215,240,260,225,210,
215,240,225,255,230,205,235,
240,220,250,230,215,245,225,
225,245,210,240,255,220,230,
235,215,245,225,210,240,220,
230,250,569,240,220,235,215,
225,245,215,240,230,210,235,
240,200,230,250,225,215,240,
220,245,260,230,215,250,235,
245,225,255,280,240,220,250,
230,255,240,265,245,225,250,
250,230,270,245,260,235,215,
240,265,250,230,275,255,240,
260,240,270,250,235,255,150,
200,245,265,240,255,230,250,
245,140,230,260,245,270,250,
255,275,245,310,260,240,265,
250,270,240,200,166,230,255,
260,240,275,250,230,265,245,
270,250,285,255,240,275,260,
255,275,250,265,245,270,250,
250,190,260,245,270,175,240,
265,245,280,255,240,270,250,
250,270,245,260,280,250,240,
260,240,275,250,235,265,255,
245,265,240,255,310,260,240,
255,240,265,250,230,245,260,
250,270,245,260,240,275,255,
240,260,230,250,270,245,235,
255,245,265,240,250,235,260,
245,265,250,240,260,275,250,
240,200,37,180,230,255,245,
250,270,245,280,255,240,265,
260,245,275,255,240,270,250,
245,265,240,255,275,250,240,
255,240,260,230,250,235,245,
230,160,120,190,220,240,225,
210,230,200,225,240,215,195,
200,220,190,210,230,205,180,
170,150,135,124,140,165,180,
190,210,175,200,220,185,205,
195,205,214];

const jaSearch = [
20.9e3,20e3,20.5e3,21e3,20.3e3,18.5e3,19.2e3,
20.5e3,20.8e3,21e3,20.6e3,20e3,18e3,18.8e3,
20.6e3,21e3,21.2e3,20.8e3,20.2e3,18.2e3,19e3,
20.4e3,20.8e3,21e3,21.5e3,20e3,18e3,18.8e3,
20.6e3,20.2e3,20.8e3,20.4e3,19.8e3,17.8e3,18.6e3,
19.5e3,19.8e3,20e3,19.6e3,19e3,17.5e3,18.2e3,
19.2e3,19.5e3,19.8e3,18.5e3,10e3,16e3,18e3,
18.8e3,19e3,19.2e3,18.8e3,18.2e3,16.8e3,17.5e3,
18.5e3,18.8e3,19e3,18.6e3,18e3,16.5e3,17.2e3,
18e3,18.4e3,18.6e3,18.2e3,17.6e3,16.2e3,16.8e3,
18.2e3,18.5e3,18.8e3,18.4e3,17.8e3,16.4e3,17e3,
17.8e3,18.2e3,18.4e3,18e3,17.4e3,16e3,16.6e3,
17.6e3,18e3,18.2e3,17.8e3,17.2e3,15.8e3,16.4e3,
17.4e3,17.8e3,18e3,17.6e3,17e3,15.6e3,16.2e3,
17.6e3,18e3,18.2e3,17.8e3,17.2e3,15.8e3,16.4e3,
17.2e3,17.6e3,17.8e3,17.4e3,16.8e3,15.5e3,16e3,
17e3,16e3,17.6e3,17.2e3,16.6e3,15.3e3,15.8e3,
17.2e3,17.6e3,17.8e3,17.4e3,16.8e3,15.5e3,16e3,
17.4e3,17.8e3,18e3,17.6e3,17e3,15.6e3,16.2e3,
17.2e3,17.6e3,17.8e3,17.4e3,16.8e3,15.5e3,16e3,
17e3,17.4e3,17.6e3,17.2e3,16.6e3,15.2e3,15.8e3,
17.2e3,17.6e3,17.8e3,17.4e3,16.8e3,15.4e3,16e3,
17e3,17.4e3,17.6e3,17.2e3,16.6e3,15.5e3,10.2e3,
15e3,17.2e3,17.4e3,17e3,16.4e3,15.2e3,15.8e3,
16.8e3,11.6e3,16e3,17e3,16.4e3,15e3,15.6e3,
17e3,17.4e3,17.6e3,17.2e3,16.6e3,15.3e3,15.9e3,
17.2e3,17.6e3,17.8e3,17.4e3,10.8e3,15e3,16e3,
18e3,18.5e3,18.8e3,18.4e3,17.8e3,16.5e3,17e3,
19e3,19.8e3,20.5e3,20e3,19.2e3,17.5e3,18e3,
18.5e3,19e3,19.2e3,18.8e3,18.2e3,16.8e3,17.4e3,
18e3,12.6e3,17.5e3,18.2e3,17.6e3,12.6e3,16.8e3,
18.2e3,18.6e3,18.8e3,18.4e3,17.8e3,16.4e3,17e3,
18e3,18.4e3,18.6e3,18.2e3,17.6e3,16.2e3,16.8e3,
17.8e3,18.2e3,18.4e3,18e3,17.4e3,16e3,16.6e3,
17.6e3,18e3,18.2e3,17.8e3,17.2e3,15.8e3,16.4e3,
17.4e3,17.8e3,18e3,17.6e3,10.2e3,15.5e3,16.2e3,
17.6e3,18e3,18.2e3,17.8e3,17.2e3,15.8e3,16.4e3,
17.4e3,17.8e3,18e3,17.6e3,17e3,15.6e3,16.2e3,
17.2e3,17.6e3,17.8e3,17.4e3,16.8e3,15.4e3,16e3,
17.4e3,17.8e3,18e3,17.6e3,17e3,15.6e3,16.2e3,
17e3,15e3,2.1e3,14e3,16.5e3,15.8e3,16.4e3,
17.6e3,18e3,18.2e3,17.8e3,17.2e3,16e3,16.6e3,
17.8e3,18.2e3,18.4e3,18e3,17.4e3,16.2e3,16.8e3,
17.6e3,18e3,18.2e3,17.8e3,17.2e3,16e3,16.6e3,
16.8e3,17.2e3,17.4e3,17e3,16.4e3,15.2e3,15.8e3,
16.5e3,14e3,7.9e3,14e3,16e3,14.8e3,15.4e3,
15.6e3,15.2e3,15e3,14.6e3,14.2e3,13.5e3,14e3,
14.4e3,14e3,13.8e3,13.4e3,13e3,12.4e3,13e3,
13.6e3,13.2e3,13e3,12.6e3,12.2e3,11.6e3,12.2e3,
15.5e3,13e3,12.6e3,12.2e3,11.8e3,11.4e3,12e3,
12.4e3,12e3,11.6e3];

const esSeries = [esVisits, esEdit, esEdit2, esHistory, esSubmit, esSearch];
const jaSeries = [jaVisits, jaEdit, jaEdit2, jaHistory, jaSubmit, jaSearch];

const titleES = "Number of daily requests of each type during every whole week of 2009 (ES)";
const titleJA = "Number of daily requests of each type during every whole week of 2009 (JA)";

function sci(n: number): string {
  const e = Math.floor(Math.log10(n) + 1e-9);
  const m = Math.round(n / Math.pow(10, e));
  return `${m}e+${String(e).padStart(2, "0")}`;
}

const toPairs = (arr: number[]) => arr.map((v, i) => [i + 1, Math.log10(v)]);

function legendGraphics(top: number) {
  const els: any[] = [];
  els.push({
    type: "rect",
    shape: { x: 853.5, y: top + 0.5, width: 80, height: 74 },
    style: { fill: "#fff", stroke: "#333", lineWidth: 1 },
    z: 100,
  });
  const mx = 865.5;
  seriesNames.forEach((name, i) => {
    const cy = top + 10.5 + i * 11.3;
    const c = seriesColors[i];
    els.push({ type: "line", shape: { x1: 855, y1: cy, x2: 876, y2: cy }, style: { stroke: c, lineWidth: 1.6 }, z: 101 });
    if (i === 0) els.push({ type: "circle", shape: { cx: mx, cy, r: 3 }, style: { fill: c }, z: 102 });
    if (i === 1) els.push({ type: "polygon", shape: { points: [[mx, cy - 3.8], [mx - 3.6, cy + 2.6], [mx + 3.6, cy + 2.6]] }, style: { fill: c }, z: 102 });
    if (i === 2) {
      els.push({ type: "line", shape: { x1: mx - 4, y1: cy, x2: mx + 4, y2: cy }, style: { stroke: c, lineWidth: 1.6 }, z: 102 });
      els.push({ type: "line", shape: { x1: mx, y1: cy - 4, x2: mx, y2: cy + 4 }, style: { stroke: c, lineWidth: 1.6 }, z: 102 });
    }
    if (i === 3) {
      els.push({ type: "line", shape: { x1: mx - 3, y1: cy - 3, x2: mx + 3, y2: cy + 3 }, style: { stroke: c, lineWidth: 1.6 }, z: 102 });
      els.push({ type: "line", shape: { x1: mx - 3, y1: cy + 3, x2: mx + 3, y2: cy - 3 }, style: { stroke: c, lineWidth: 1.6 }, z: 102 });
    }
    if (i === 4) els.push({ type: "polygon", shape: { points: [[mx, cy - 4], [mx + 4, cy], [mx, cy + 4], [mx - 4, cy]] }, style: { fill: c }, z: 102 });
    if (i === 5) els.push({ type: "polygon", shape: { points: [[mx - 3.6, cy - 2.6], [mx + 3.6, cy - 2.6], [mx, cy + 3.8]] }, style: { fill: c }, z: 102 });
    els.push({
      type: "text",
      x: 882,
      y: cy,
      style: { text: name, fontSize: 8.5, fontFamily: FONT, fill: "#000", align: "left", verticalAlign: "middle" },
      z: 102,
    });
  });
  return els;
}

export default function App() {
  const ref = useRef<HTMLDivElement>(null);
  useEffect(() => {
    if (!ref.current) return;
    const chart = echarts.init(ref.current, null, { renderer: "svg" });
    const panels = [
      { top: 55.7, height: 246, min: 1.004, max: 5.637, ticks: yTicksES, data: esSeries },
      { top: 440, height: 245, min: 1.205, max: 5.725, ticks: yTicksJA, data: jaSeries },
    ];
    const grid = panels.map((p) => ({
      left: 84,
      top: p.top,
      width: 837,
      height: p.height,
      show: true,
      borderColor: "#333",
      borderWidth: 1,
      backgroundColor: "transparent",
      outerBoundsMode: "none",
      containLabel: false,
    }));
    const xAxis = panels.map((_, i) => ({
      type: "value",
      gridIndex: i,
      min: -15.06,
      max: 418.6,
      axisLine: { show: false },
      splitLine: { show: false },
      axisTick: { show: true, length: 8, customValues: xTicks, lineStyle: { color: "#333", width: 1 } },
      axisLabel: { show: true, customValues: xLabels, margin: 20, fontSize: 15.4, fontFamily: FONT, color: "#000", hideOverlap: false },
    }));
    const yAxis = panels.map((p, i) => ({
      type: "value",
      gridIndex: i,
      min: p.min,
      max: p.max,
      axisLine: { show: false },
      splitLine: { show: false },
      axisTick: { show: true, length: 9, customValues: p.ticks.map((v) => Math.log10(v)), lineStyle: { color: "#333", width: 1 } },
      axisLabel: {
        show: true,
        customValues: yLabels.map((v) => Math.log10(v)),
        rotate: 90,
        margin: 20,
        fontSize: 15.4,
        fontFamily: FONT,
        color: "#000",
        formatter: (v: number) => sci(Math.pow(10, v)),
        hideOverlap: false,
      },
      name: "Number of requests",
      nameLocation: "middle",
      nameGap: 58,
      nameRotate: 90,
      nameTextStyle: { fontSize: 15.4, fontFamily: FONT, color: "#000" },
    }));
    const series: any[] = [];
    panels.forEach((p, i) => {
      series.push({
        type: "line",
        name: "grid" + i,
        xAxisIndex: i,
        yAxisIndex: i,
        data: [],
        silent: true,
        z: 1,
        markLine: {
          silent: true,
          z: 1,
          symbol: ["none", "none"],
          label: { show: false },
          emphasis: { disabled: true },
          lineStyle: { color: "#8a8a8a", type: [1, 3], width: 1 },
          data: xTicks.map((d) => ({ xAxis: d })),
        },
      });
      p.data.forEach((arr, k) => {
        series.push({
          type: "line",
          name: seriesNames[k] + "-" + i + "-" + k,
          xAxisIndex: i,
          yAxisIndex: i,
          data: toPairs(arr),
          showSymbol: false,
          symbol: "none",
          silent: true,
          z: 3,
          lineStyle: { color: seriesColors[k], width: 1 },
          itemStyle: { color: seriesColors[k] },
          emphasis: { disabled: true },
        });
      });
    });
    chart.setOption({
      animation: false,
      backgroundColor: "#fff",
      title: [
        { text: titleES, left: 501, top: 7, textAlign: "center", padding: 0, textStyle: { fontSize: 18.5, fontWeight: "bold", fontFamily: FONT, color: "#000", lineHeight: 22 } },
        { text: titleJA, left: 501, top: 391, textAlign: "center", padding: 0, textStyle: { fontSize: 18.5, fontWeight: "bold", fontFamily: FONT, color: "#000", lineHeight: 22 } },
      ],
      grid,
      xAxis,
      yAxis,
      series,
      graphic: [...legendGraphics(56.7), ...legendGraphics(440)],
    });
    return () => chart.dispose();
  }, []);
  return <div ref={ref} style={{ position: "absolute", left: 0, top: 0, width: 911, height: 724, background: "#fff" }} />;
}
